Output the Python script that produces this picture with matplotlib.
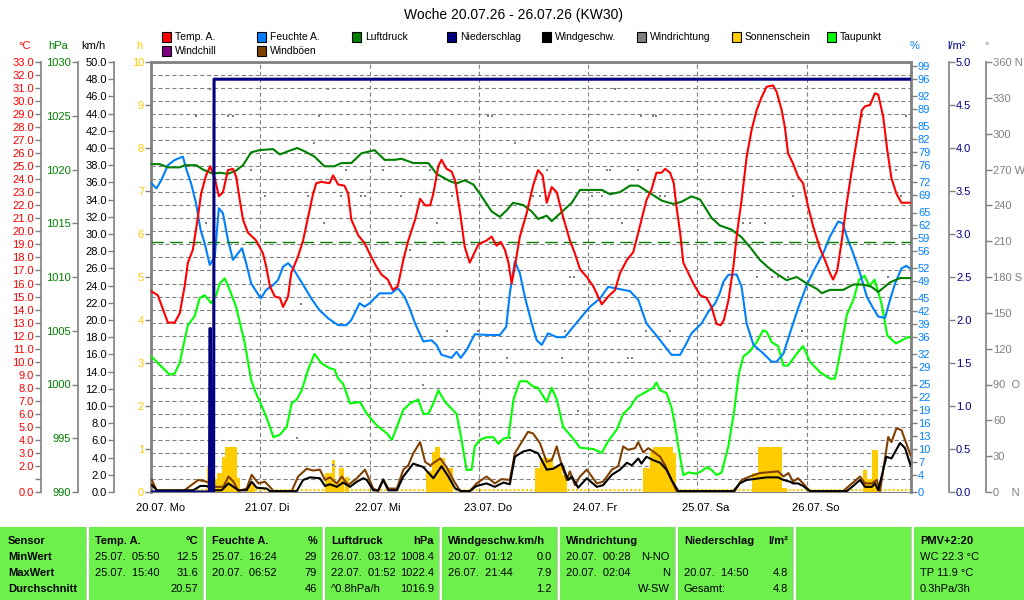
"""
Wochenübersicht Wetterstation KW30 (20.07.26 - 26.07.26)
Nachbau der Wochengrafik mit matplotlib
"""

import numpy as np
import matplotlib
matplotlib.use('Agg')
import matplotlib.pyplot as plt
from matplotlib.patches import Rectangle
from matplotlib.lines import Line2D
from matplotlib import transforms

plt.rcParams['font.family'] = ['Liberation Sans', 'DejaVu Sans']
plt.rcParams['lines.scale_dashes'] = False

### Data (Zeit in Stunden ab 20.07. 00:00)
day_labels = ['20.07. Mo', '21.07. Di', '22.07. Mi', '23.07. Do', '24.07. Fr', '25.07. Sa', '26.07. So']

temp_t = [0.1, 1.5, 3.7, 5.2, 6.3, 7.4, 8.1, 9.2, 10.3, 11.0,
          12.1, 13.0, 14.0, 14.9, 15.8, 16.9, 18.0, 18.7, 19.5, 20.2,
          21.3, 23.1, 24.6, 25.3, 26.1, 27.2, 28.3, 29.0, 30.1, 30.8,
          32.3, 33.4, 34.5, 35.6, 36.3, 37.4, 39.2, 40.0, 41.1, 42.5,
          43.3, 44.0, 45.5, 46.9, 48.0, 49.5, 50.6, 52.0, 53.1, 54.2,
          55.4, 56.5, 58.0, 59.1, 60.2, 61.3, 62.0, 63.1, 63.8, 64.9,
          66.0, 66.8, 67.9, 68.9, 70.0, 71.9, 73.7, 74.8, 75.9, 76.8,
          77.7, 78.5, 79.2, 79.9, 81.0, 82.5, 83.9, 85.0, 86.0, 86.9,
          88.0, 89.1, 90.5, 92.0, 93.1, 94.2, 95.7, 97.1, 99.0, 100.4,
          101.9, 103.0, 104.5, 105.9, 107.0, 108.8, 109.9, 111.0, 112.1, 112.9,
          114.0, 114.8, 115.4, 116.2, 116.9, 118.0, 119.1, 120.6, 122.0, 123.1,
          124.2, 125.1, 125.8, 126.8, 127.9, 128.7, 129.7, 130.8, 131.9, 133.0,
          134.1, 135.2, 136.6, 137.4, 138.5, 139.2, 139.9, 141.0, 142.1, 143.2,
          144.3, 145.4, 146.9, 148.0, 149.1, 149.8, 150.7, 151.7, 152.8, 153.9,
          155.0, 156.1, 156.8, 157.9, 159.0, 159.7, 160.8, 161.7, 162.6, 163.7,
          164.8, 166.9]
temp_v = [15.4, 15.1, 13.0, 13.0, 13.7, 15.8, 17.6, 18.6, 21.1, 22.9,
          24.3, 25.0, 24.1, 22.7, 23.0, 24.7, 24.8, 24.2, 22.4, 20.9,
          19.9, 19.3, 18.3, 17.3, 15.8, 15.0, 14.9, 14.2, 15.0, 16.8,
          18.1, 19.3, 21.1, 22.9, 23.7, 23.8, 23.7, 24.3, 23.6, 23.5,
          22.9, 20.9, 19.7, 19.1, 18.3, 17.3, 16.7, 16.3, 15.5, 15.8,
          17.8, 19.3, 20.9, 22.5, 22.0, 22.0, 22.9, 25.0, 25.5, 24.8,
          24.6, 23.9, 21.4, 18.8, 17.6, 19.0, 19.3, 19.6, 18.9, 19.2,
          18.6, 17.6, 16.0, 17.3, 19.6, 21.4, 23.5, 24.7, 24.3, 22.2,
          23.4, 23.0, 21.1, 19.3, 18.3, 17.1, 16.5, 15.8, 14.4, 15.0,
          15.5, 16.8, 17.8, 18.4, 19.9, 22.4, 23.2, 24.5, 24.5, 24.8,
          24.5, 23.7, 21.9, 19.9, 17.6, 16.8, 16.0, 15.1, 14.9, 14.2,
          12.9, 12.8, 13.2, 14.7, 17.3, 19.9, 22.4, 25.7, 27.8, 29.3,
          30.3, 31.1, 31.2, 30.7, 29.3, 28.0, 26.0, 25.2, 24.2, 23.7,
          21.9, 20.4, 18.7, 17.8, 16.8, 16.3, 17.0, 19.3, 22.2, 24.7,
          27.0, 29.3, 29.6, 29.7, 30.6, 30.5, 28.8, 26.2, 24.1, 22.9,
          22.2, 22.2]

hum_t = [0.1, 1.2, 2.3, 3.7, 5.2, 7.0, 7.8, 8.8, 9.9, 10.9,
         11.8, 12.9, 14.0, 14.9, 15.8, 16.9, 18.0, 19.1, 20.0, 20.9,
         22.0, 24.1, 25.3, 26.8, 27.9, 29.0, 30.1, 31.2, 33.0, 35.2,
         37.0, 38.9, 41.1, 42.9, 44.0, 45.8, 46.9, 48.0, 50.2, 52.8,
         54.2, 55.7, 56.8, 58.0, 59.8, 61.6, 62.7, 63.8, 66.0, 67.1,
         68.0, 69.3, 71.1, 74.1, 76.6, 78.0, 78.8, 79.9, 81.0, 82.1,
         83.6, 84.7, 85.8, 87.2, 89.1, 90.9, 92.7, 94.6, 96.4, 98.6,
         100.4, 101.9, 105.2, 107.0, 108.8, 110.6, 111.8, 114.3, 116.2, 117.6,
         118.7, 120.9, 122.4, 123.9, 124.9, 125.7, 126.8, 128.6, 129.7, 130.8,
         132.3, 134.1, 136.3, 137.4, 138.9, 140.3, 142.1, 144.0, 145.8, 147.6,
         149.1, 150.9, 151.9, 152.8, 154.2, 155.7, 157.2, 158.6, 159.7, 161.2,
         162.3, 163.4, 164.8, 165.9, 166.9]
hum_v = [71.8, 70.6, 72.6, 76.0, 77.2, 78.0, 74.9, 71.8, 67.1, 60.9,
         57.8, 52.8, 54.7, 66.0, 64.8, 58.6, 54.0, 55.5, 56.7, 53.2,
         48.5, 45.0, 47.0, 48.1, 49.3, 52.4, 53.2, 52.0, 48.9, 45.0,
         42.3, 40.4, 38.8, 38.8, 40.0, 43.9, 43.1, 43.9, 46.2, 46.2,
         47.4, 45.4, 42.7, 39.2, 35.0, 35.3, 34.2, 31.9, 31.2, 32.6,
         31.2, 33.0, 36.7, 36.5, 36.5, 38.4, 46.2, 53.6, 50.9, 45.4,
         39.2, 35.3, 34.2, 36.9, 36.0, 36.0, 38.4, 40.8, 43.1, 45.0,
         47.7, 47.4, 46.7, 44.7, 39.2, 36.9, 35.3, 31.9, 31.9, 34.6,
         36.9, 39.2, 41.9, 43.9, 46.2, 48.9, 50.5, 50.6, 47.7, 39.2,
         34.2, 32.6, 30.3, 30.3, 32.2, 36.9, 42.7, 48.1, 52.0, 55.5,
         59.4, 62.9, 62.5, 59.4, 55.5, 50.9, 45.4, 42.7, 40.8, 40.5,
         44.7, 48.5, 52.0, 52.6, 51.8]

press_t = [0.1, 1.9, 3.7, 6.3, 7.4, 9.9, 11.4, 13.6, 15.0, 16.9,
           18.7, 20.2, 22.0, 23.8, 26.8, 28.3, 30.1, 32.1, 33.7, 35.9,
           38.1, 40.3, 41.8, 44.0, 46.2, 49.1, 51.3, 53.5, 55.0, 57.6,
           60.9, 62.7, 65.7, 67.1, 68.9, 70.8, 72.6, 74.8, 76.6, 78.1,
           79.5, 81.7, 83.6, 85.0, 86.9, 88.0, 89.8, 92.4, 94.2, 97.1,
           99.0, 100.8, 103.0, 105.2, 107.0, 109.2, 112.2, 114.7, 116.5, 118.7,
           120.6, 123.1, 124.9, 127.5, 129.7, 131.5, 133.7, 135.5, 137.4, 139.6,
           141.8, 144.0, 146.2, 147.3, 149.1, 152.0, 154.2, 156.4, 158.2, 159.7,
           162.3, 164.5, 166.9]
press_v = [1020.5, 1020.5, 1020.2, 1020.2, 1020.4, 1020.4, 1020.0, 1019.6, 1019.7, 1019.6,
           1019.9, 1020.4, 1021.6, 1021.8, 1021.9, 1021.4, 1021.7, 1022.0, 1021.7, 1021.2,
           1020.3, 1020.3, 1020.6, 1020.6, 1021.5, 1021.8, 1020.9, 1020.9, 1021.0, 1020.6,
           1020.6, 1019.6, 1018.9, 1018.7, 1019.0, 1018.6, 1017.5, 1016.1, 1015.6, 1016.2,
           1016.9, 1016.7, 1016.1, 1015.4, 1015.7, 1015.2, 1015.9, 1016.9, 1018.1, 1018.1,
           1018.1, 1017.7, 1017.9, 1018.5, 1018.5, 1017.9, 1017.1, 1016.8, 1017.0, 1017.5,
           1017.2, 1015.5, 1014.8, 1014.4, 1013.7, 1012.8, 1011.6, 1010.9, 1010.3, 1009.7,
           1010.0, 1009.4, 1008.9, 1008.5, 1008.8, 1008.8, 1009.3, 1009.3, 1009.1, 1008.6,
           1009.5, 1009.9, 1009.9]

dew_t = [0.1, 1.5, 4.1, 5.2, 6.3, 7.4, 8.1, 9.6, 10.7, 11.8,
         13.2, 14.3, 15.1, 16.2, 17.3, 18.7, 20.6, 22.0, 22.8, 24.7,
         25.8, 26.9, 28.3, 29.8, 30.9, 32.0, 33.1, 34.5, 35.9, 37.4,
         39.2, 40.3, 41.1, 42.2, 43.7, 45.9, 47.4, 49.6, 51.8, 52.9,
         54.0, 55.4, 56.9, 58.7, 59.8, 60.9, 62.0, 63.1, 64.6, 66.0,
         67.1, 68.2, 69.3, 70.4, 71.1, 72.2, 73.7, 75.2, 76.3, 77.4,
         78.5, 79.6, 81.0, 82.5, 83.9, 85.0, 86.9, 88.0, 89.1, 90.5,
         92.7, 94.2, 97.1, 99.0, 100.4, 102.3, 103.7, 105.2, 106.7, 108.8,
         110.3, 111.0, 111.8, 113.2, 114.3, 115.0, 115.8, 116.9, 118.0, 119.8,
         120.9, 122.0, 123.1, 124.2, 125.3, 126.8, 128.1, 128.9, 129.3, 130.1,
         131.5, 133.0, 134.4, 135.2, 136.3, 137.7, 138.9, 139.9, 141.8, 143.2,
         144.7, 146.9, 149.1, 150.2, 151.3, 152.8, 154.2, 155.5, 156.7, 157.8,
         158.9, 160.4, 161.7, 163.6, 165.2, 166.3, 166.9]
dew_v = [10.4, 9.9, 9.0, 9.1, 9.9, 11.7, 12.8, 13.5, 14.9, 15.1,
         14.5, 15.1, 16.0, 16.4, 15.5, 14.2, 11.4, 8.6, 7.8, 6.3,
         5.3, 4.2, 4.4, 5.0, 6.8, 7.1, 7.8, 9.4, 10.6, 9.9,
         9.5, 9.4, 8.7, 8.3, 6.8, 6.9, 6.0, 5.1, 4.5, 4.0,
         5.0, 6.3, 6.8, 7.1, 6.0, 6.0, 6.8, 7.8, 6.9, 6.4,
         6.0, 4.0, 1.7, 1.7, 3.5, 4.0, 4.2, 4.2, 3.7, 4.1,
         4.2, 7.1, 8.5, 8.5, 8.1, 8.0, 6.9, 8.0, 7.1, 5.0,
         4.1, 3.4, 3.3, 3.0, 3.9, 4.8, 6.0, 6.5, 7.3, 7.7,
         8.0, 8.4, 7.8, 7.6, 6.5, 5.3, 3.5, 1.3, 1.5, 1.4,
         1.6, 1.9, 1.7, 1.3, 1.5, 3.5, 6.3, 8.6, 9.4, 10.4,
         10.8, 11.5, 12.4, 12.3, 11.5, 11.2, 9.7, 9.7, 10.6, 11.2,
         10.0, 9.2, 8.7, 8.7, 10.6, 13.6, 14.7, 16.3, 16.6, 15.8,
         16.3, 14.5, 12.0, 11.4, 11.7, 11.9, 11.8]

wind_t = [0.2, 1.3, 9.3, 10.8, 12.2, 14.1, 15.5, 17.0, 18.1, 19.2,
          21.0, 22.1, 23.2, 25.4, 26.1, 32.0, 33.4, 34.9, 37.1, 38.2,
          39.3, 40.8, 42.2, 43.7, 45.2, 46.6, 47.4, 48.8, 49.9, 51.0,
          52.1, 54.0, 55.4, 57.6, 59.8, 62.0, 63.8, 65.3, 66.8, 68.2,
          70.0, 71.5, 73.7, 75.5, 77.4, 78.8, 79.9, 81.7, 83.2, 85.0,
          86.9, 88.3, 90.2, 91.6, 92.4, 93.8, 95.7, 97.9, 99.3, 101.2,
          103.0, 104.5, 105.6, 107.0, 107.7, 108.8, 110.3, 111.8, 113.2, 114.3,
          115.8, 127.9, 129.3, 130.8, 132.3, 135.2, 137.7, 138.9, 140.3, 141.0,
          142.1, 143.2, 144.7, 152.8, 154.2, 155.7, 156.8, 158.3, 159.0, 159.7,
          161.5, 162.6, 164.5, 165.6, 166.8]
wind_v = [0.8, 0.2, 0.2, 0.7, 0.7, 0.2, 0.2, 1.0, 0.6, 0.2,
          0.2, 1.2, 0.5, 0.4, 0.1, 0.1, 1.4, 1.7, 1.6, 0.7,
          0.9, 0.6, 1.1, 0.6, 1.2, 1.6, 1.4, 0.2, 0.2, 1.4,
          0.2, 0.2, 1.8, 3.3, 2.9, 1.6, 3.0, 1.8, 0.4, 0.1,
          0.1, 0.7, 1.0, 0.6, 1.1, 0.9, 4.1, 4.7, 4.9, 4.5,
          2.6, 2.7, 3.3, 1.4, 1.8, 0.5, 1.6, 0.6, 0.8, 2.0,
          2.6, 3.4, 3.1, 3.9, 3.3, 4.1, 3.7, 3.4, 2.6, 1.4,
          0.1, 0.1, 1.0, 1.4, 1.5, 1.7, 1.7, 1.4, 1.2, 1.0,
          1.0, 0.7, 0.1, 0.1, 0.7, 1.4, 0.6, 0.6, 1.0, 0.2,
          4.1, 3.9, 5.7, 5.1, 3.1]

gust_t = [0.2, 1.3, 7.1, 8.6, 10.4, 12.2, 14.1, 15.9, 17.0, 18.1,
          19.2, 21.0, 22.1, 23.6, 25.0, 26.1, 26.9, 30.9, 32.3, 34.2,
          35.6, 37.1, 38.2, 39.3, 40.8, 41.9, 43.3, 45.2, 47.0, 48.8,
          49.9, 51.0, 52.1, 54.0, 55.4, 56.5, 57.6, 59.1, 60.2, 61.3,
          62.4, 63.5, 64.9, 66.4, 67.9, 70.0, 71.5, 73.7, 75.5, 77.0,
          78.8, 79.9, 81.4, 82.8, 83.9, 85.4, 86.9, 88.0, 89.1, 90.2,
          91.3, 92.0, 93.1, 94.2, 95.7, 97.9, 99.3, 101.2, 102.6, 103.7,
          104.8, 106.3, 107.0, 108.1, 109.2, 110.3, 111.8, 112.9, 114.0, 115.4,
          128.2, 129.7, 131.5, 133.7, 137.7, 138.9, 140.0, 141.0, 142.1, 143.2,
          144.7, 152.0, 153.5, 155.7, 156.8, 158.3, 159.4, 160.1, 161.9, 162.6,
          163.7, 164.8, 166.8]
gust_v = [1.4, 0.1, 0.1, 0.7, 1.4, 1.2, 0.6, 0.6, 1.8, 1.2,
          0.1, 0.4, 2.0, 1.0, 1.2, 0.6, 0.1, 0.1, 1.8, 2.7,
          2.5, 2.6, 1.4, 1.7, 1.0, 1.8, 0.8, 1.6, 2.6, 0.4,
          0.1, 1.5, 0.4, 0.4, 2.6, 3.1, 4.5, 5.8, 3.5, 3.1,
          3.5, 3.9, 2.9, 1.4, 0.1, 0.1, 1.0, 1.8, 1.0, 1.5,
          1.4, 4.5, 5.8, 7.0, 6.8, 5.7, 3.5, 3.7, 5.3, 3.1,
          1.4, 2.4, 0.8, 1.8, 2.6, 1.0, 1.2, 2.6, 3.0, 5.3,
          4.9, 5.1, 5.8, 4.6, 5.1, 4.7, 4.1, 3.1, 1.8, 0.1,
          0.1, 1.4, 1.8, 2.2, 2.4, 1.8, 2.2, 1.2, 1.6, 1.0,
          0.1, 0.1, 0.8, 1.8, 1.0, 1.0, 1.4, 0.1, 6.4, 5.8,
          7.4, 7.2, 4.3]

# Sonnenschein: Intervall-Beginn, -Ende [h] und Sonnenstunden
sun_t0 = [12.2, 13.4, 14.4, 15.5, 16.2, 18.8, 21.0, 38.2, 39.7, 40.4,
          41.3, 42.6, 60.5, 61.6, 62.4, 63.5, 64.6, 84.3, 85.4, 86.5,
          88.3, 90.2, 108.1, 109.6, 110.3, 114.7, 131.9, 133.4, 138.5, 156.4,
          157.2, 158.3]
sun_t1 = [13.4, 14.4, 15.5, 16.2, 18.8, 19.5, 22.8, 39.7, 40.4, 41.3,
          42.4, 43.5, 61.6, 62.4, 63.5, 64.6, 66.4, 85.4, 86.5, 88.3,
          90.2, 91.3, 109.6, 110.3, 114.7, 115.4, 133.4, 138.5, 139.6, 157.2,
          158.3, 159.7]
sun_h = [0.56, 0.30, 0.44, 0.82, 1.05, 0.32, 0.20, 0.45, 0.74, 0.20,
         0.56, 0.35, 0.50, 0.94, 1.05, 0.80, 0.55, 0.55, 0.80, 0.78,
         0.60, 0.40, 0.55, 0.93, 1.05, 0.90, 0.44, 1.05, 0.10, 0.52,
         0.30, 0.97]

# Niederschlag (Summe l/m2)
rain_t = [0.0, 12.85, 12.95, 13.05, 13.15, 13.75, 13.85, 166.9]
rain_v = [0.0, 0.0, 1.9, 1.9, 0.0, 0.0, 4.8, 4.8]

# Windrichtung (Grad)
dir_t = [9.9, 12.9, 16.9, 18.0, 22.0, 25.0, 12.1, 34.5, 35.9, 37.0,
         38.0, 38.9, 41.8, 42.9, 46.2, 47.0, 50.9, 55.0, 33.0, 74.1,
         74.8, 79.9, 61.3, 62.7, 66.0, 56.9, 86.9, 85.4, 83.9, 92.0,
         92.8, 96.8, 99.0, 100.1, 100.8, 101.9, 103.4, 107.0, 107.7, 110.3,
         64.9, 71.9, 90.9, 78.1, 90.2, 104.8, 105.6, 59.8, 108.8, 110.9,
         111.8, 112.9, 115.1, 130.1, 131.5, 134.8, 141.0, 133.0, 136.3, 137.7,
         139.9, 153.9, 156.1, 163.7, 164.8, 165.9, 114.0, 142.9, 161.9, 32.0,
         39.9, 78.8, 93.8]
dir_v = [315, 337.5, 315, 315, 270, 247.5, 225, 247.5, 292.5, 315,
         225, 337.5, 247.5, 270, 247.5, 247.5, 270, 247.5, 157.5, 315,
         315, 292.5, 270, 225, 247.5, 202.5, 270, 247.5, 247.5, 180,
         180, 247.5, 247.5, 270, 270, 337.5, 225, 270, 315, 315,
         135, 135, 135, 112.5, 112.5, 112.5, 112.5, 90, 135, 315,
         247.5, 247.5, 247.5, 225, 225, 225, 247.5, 180, 180, 180,
         180, 270, 315, 270, 247.5, 315, 135, 135, 180, 45,
         22.5, 45, 67.5]

hum_ticks = [0, 4, 7, 10, 13, 16, 19, 22, 25, 29, 32, 36, 39, 42, 45, 49,
             52, 56, 59, 62, 65, 69, 72, 76, 79, 82, 85, 89, 92, 96, 99]

### Farben
c_temp = '#FF0000'
c_hum = '#0080FF'
c_press = '#008000'
c_rain = '#000080'
c_wind = '#000000'
c_dir = '#808080'
c_sun = '#FFCC00'
c_dew = '#00FF00'
c_chill = '#800080'
c_gust = '#804000'
c_frame = '#808080'
c_table = '#6EF04C'

W, H = 1024, 600
def fx(x):
    return x / W
def fy(y):
    return 1 - y / H

fig = plt.figure(figsize=(10.24, 6.0), dpi=100)
fig.patch.set_facecolor('white')

# plot area 151..911 x 62..492 px
ax = fig.add_axes([fx(151), fy(492), (911 - 151) / W, (492 - 62) / H])
xmax = 166.9
ax.set_xlim(0, xmax)
ax.set_ylim(0, 33)

for s in ['right']:
    ax.spines[s].set_visible(False)
ax.spines['top'].set_color(c_frame)
ax.spines['top'].set_linewidth(2)
ax.spines['bottom'].set_color(c_frame)
ax.spines['left'].set_position(('outward', 110 * 0.72))
ax.spines['left'].set_color(c_frame)
ax.spines['left'].set_linewidth(1.2)

ax.set_yticks(range(0, 34))
ax.set_yticklabels(['%.1f' % v if v != 1 else '' for v in range(0, 34)])
ax.tick_params(axis='y', color=c_frame, labelcolor=c_temp, length=4, width=1, pad=1, labelsize=8)

ax.set_xticks([24 * i for i in range(7)])
ax.set_xticklabels(day_labels, ha='left')
ax.tick_params(axis='x', length=0, pad=8, labelsize=8)
shift = transforms.ScaledTranslation(-15 / 100, 0, fig.dpi_scale_trans)
for lab in ax.get_xticklabels():
    lab.set_transform(lab.get_transform() + shift)

ax.grid(True, color=c_frame, ls=(0, (3, 2)), lw=0.8)
ax.set_axisbelow(True)


def side_axis(side, offset_px, lo, hi, ticks=None, labels=None, color='black', lw=1.2):
    a = ax.twinx()
    a.set_ylim(lo, hi)
    a.set_xlim(0, xmax)
    for s in a.spines.values():
        s.set_visible(False)
    if side is None:
        a.set_yticks([])
        return a
    a.spines[side].set_visible(True)
    a.spines[side].set_position(('outward', offset_px * 0.72))
    a.spines[side].set_color(c_frame)
    a.spines[side].set_linewidth(lw)
    a.yaxis.set_ticks_position(side)
    a.set_yticks(ticks)
    a.set_yticklabels(labels)
    a.tick_params(axis='y', color=c_frame, labelcolor=color, length=4, width=1, pad=1, labelsize=8)
    return a


# Sonnenschein (h) - linke Rahmenlinie
ax_s = side_axis('left', 0, 0, 10, range(0, 11), [str(v) for v in range(0, 11)], c_sun, lw=2)
ax_s.bar(sun_t0, sun_h, width=np.subtract(sun_t1, sun_t0), align='edge', color=c_sun, lw=0)
ax_s.axhline(0.04, color=c_sun, ls=(0, (1.5, 1.5)), lw=1.5)

# Windrichtung (Grad)
dir_ticks = list(range(0, 361, 30))
dir_names = {0: '0    N', 90: '90  O', 180: '180 S', 270: '270 W', 360: '360 N'}
ax_d = side_axis('right', 75, 0, 360, dir_ticks, [dir_names.get(v, str(v)) for v in dir_ticks], c_frame)
ax_d.scatter(dir_t, dir_v, s=4, marker='s', color=c_dir, lw=0)

# Taupunkt
ax_dew = side_axis(None, 0, 0, 33)
ax_dew.plot(dew_t, dew_v, color=c_dew, lw=1.5)

# Feuchte (%) - rechte Rahmenlinie
ax_h = side_axis('right', 0, 0, 100, hum_ticks, [str(v) for v in hum_ticks], c_hum, lw=2)
ax_h.plot(hum_t, hum_v, color=c_hum, lw=1.5)

# Luftdruck (hPa)
ax_p = side_axis('left', 73, 990, 1030, range(990, 1031, 5), [str(v) for v in range(990, 1031, 5)], c_press)
ax_p.axhline(1013.25, color=c_press, ls=(0, (9, 4.5)), lw=1)
ax_p.plot(press_t, press_v, color=c_press, lw=1.5)

# Temperatur
ax_tt = side_axis(None, 0, 0, 33)
ax_tt.plot(temp_t, temp_v, color=c_temp, lw=1.5)

# Wind (km/h)
wind_ticks = list(range(0, 51, 2))
ax_w = side_axis('left', 37, 0, 50, wind_ticks, ['%.1f' % v for v in wind_ticks], 'black')
ax_w.plot(gust_t, gust_v, color=c_gust, lw=1.5)
ax_w.plot(wind_t, wind_v, color=c_wind, lw=1.5)

# Niederschlag (l/m2)
rain_ticks = [i * 0.5 for i in range(11)]
ax_r = side_axis('right', 38, 0, 5, rain_ticks, ['%.1f' % v for v in rain_ticks], c_rain)
ax_r.plot(rain_t, rain_v, color=c_rain, lw=2.2)

### Einheiten über den Achsen
units = [(25, '°C', c_temp), (58, 'hPa', c_press), (93, 'km/h', 'black'), (139, 'h', c_sun),
         (915, '%', c_hum), (957, 'l/m²', c_rain), (987, '°', c_frame)]
for x, txt, col in units:
    fig.text(fx(x), fy(46), txt, color=col, fontsize=8, ha='center', va='center')

### Titel
fig.text(fx(513), fy(15), 'Woche 20.07.26 - 26.07.26 (KW30)', ha='center', va='center', fontsize=10)

### Legende
legend_items = [('Temp. A.', c_temp), ('Feuchte A.', c_hum), ('Luftdruck', c_press),
                ('Niederschlag', c_rain), ('Windgeschw.', c_wind), ('Windrichtung', c_dir),
                ('Sonnenschein', c_sun), ('Taupunkt', c_dew), ('Windchill', c_chill),
                ('Windböen', c_gust)]
for i, (name, col) in enumerate(legend_items):
    x0 = 162 + 95 * (i % 8)
    y0 = 37 + 14 * (i // 8)
    fig.patches.append(Rectangle((fx(x0), fy(y0 + 4.5)), 9 / W, 9 / H, transform=fig.transFigure,
                                 facecolor=col, edgecolor='black', lw=0.8))
    fig.text(fx(x0 + 13), fy(y0), name, fontsize=7.5, ha='left', va='center')

### Tabelle unten
fig.patches.append(Rectangle((0, 0), 1, fy(527), transform=fig.transFigure, facecolor=c_table, lw=0))
for xs in [87, 204, 323, 440, 558, 676, 794, 912]:
    fig.patches.append(Rectangle((fx(xs - 1), 0), 3 / W, fy(527), transform=fig.transFigure,
                                 facecolor='white', lw=0))
    fig.add_artist(Line2D([fx(xs - 1), fx(xs - 1)], [0, fy(527)], color='#C8C8C8', lw=0.7))

row_y = [541, 557, 573, 589]
for yy, txt in zip(row_y, ['Sensor', 'MinWert', 'MaxWert', 'Durchschnitt']):
    fig.text(fx(8), fy(yy), txt, fontsize=8, fontweight='bold', va='center')

table_cols = [
    ('Temp. A.', '°C', [('25.07.  05:50', '12.5'), ('25.07.  15:40', '31.6'), ('', '20.57')]),
    ('Feuchte A.', '%', [('25.07.  16:24', '29'), ('20.07.  06:52', '79'), ('', '46')]),
    ('Luftdruck', 'hPa', [('26.07.  03:12', '1008.4'), ('22.07.  01:52', '1022.4'), ('^0.8hPa/h', '1016.9')]),
    ('Windgeschw.km/h', '', [('20.07.  01:12', '0.0'), ('26.07.  21:44', '7.9'), ('', '1.2')]),
    ('Windrichtung', '', [('20.07.  00:28', 'N-NO'), ('20.07.  02:04', 'N'), ('', 'W-SW')]),
    ('Niederschlag', 'l/m²', [('', ''), ('20.07.  14:50', '4.8'), ('Gesamt:', '4.8')]),
]
col_edges = [87, 204, 323, 440, 558, 676, 794]
for (head, unit, rows), xl, xr in zip(table_cols, col_edges[:-1], col_edges[1:]):
    fig.text(fx(xl + 8), fy(row_y[0]), head, fontsize=8, fontweight='bold', va='center')
    fig.text(fx(xr - 6), fy(row_y[0]), unit, fontsize=8, fontweight='bold', va='center', ha='right')
    for yy, (left, right) in zip(row_y[1:], rows):
        fig.text(fx(xl + 8), fy(yy), left, fontsize=8, va='center')
        fig.text(fx(xr - 6), fy(yy), right, fontsize=8, va='center', ha='right')

fig.text(fx(920), fy(row_y[0]), 'PMV+2:20', fontsize=8, fontweight='bold', va='center')
for yy, txt in zip(row_y[1:], ['WC 22.3 °C', 'TP 11.9 °C', '0.3hPa/3h']):
    fig.text(fx(920), fy(yy), txt, fontsize=8, va='center')

fig.savefig('out.png', dpi=100)
